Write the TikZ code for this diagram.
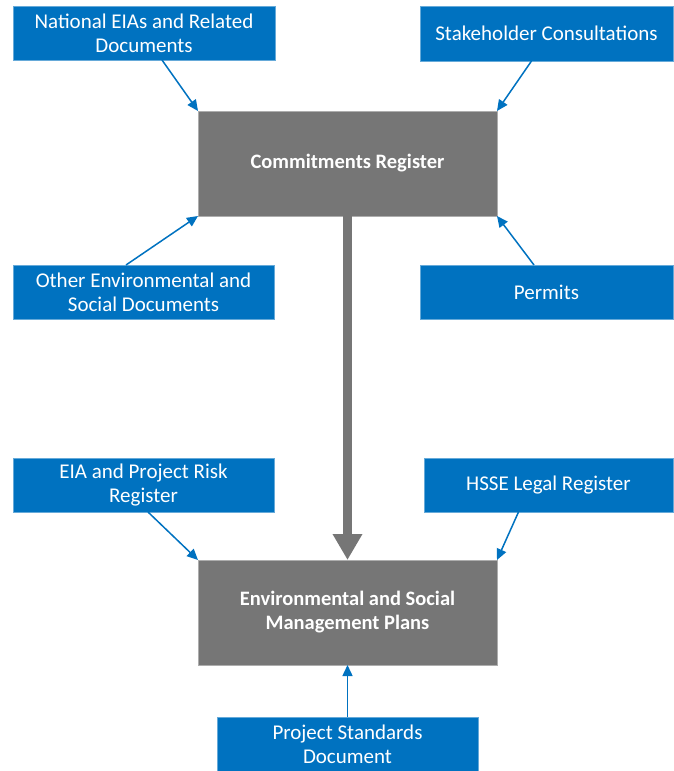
\documentclass[tikz,border=0pt]{standalone}
\usepackage{fontspec}
\setmainfont{Carlito}
\usetikzlibrary{arrows.meta}
\definecolor{boxblue}{RGB}{0,114,192}
\definecolor{boxgray}{RGB}{118,118,118}
\tikzset{
  bluebox/.style={fill=boxblue, draw=boxblue!60!white, line width=0.5pt, text=white,
    align=center, inner sep=0pt, outer sep=0pt, font=\fontsize{21}{24}\selectfont},
  graybox/.style={fill=boxgray, draw=boxgray!60!white, line width=0.5pt, text=white,
    align=center, inner sep=0pt, outer sep=0pt, font=\bfseries\fontsize{20.5}{24}\selectfont,
    minimum width=299pt, minimum height=105pt},
  arr/.style={draw=boxblue, line width=1.5pt, -{Triangle[length=11pt,width=10pt]}},
  bigarr/.style={draw=boxgray, line width=9pt, -{Triangle[length=26pt,width=28pt]}}
}
\begin{document}
\begin{tikzpicture}[x=1pt,y=-1pt]
\useasboundingbox (0,0) rectangle (673,771);
\node[bluebox, minimum width=262pt, minimum height=54pt] (nat) at (144,33) {National EIAs and Related\\Documents};
\node[bluebox, minimum width=253pt, minimum height=55pt] (stake) at (546.5,33.5) {Stakeholder Consultations};
\node[graybox] (cr) at (347.5,163.5) {Commitments Register};
\node[bluebox, minimum width=261pt, minimum height=54pt] (other) at (143.5,292) {Other Environmental and\\Social Documents};
\node[bluebox, minimum width=253pt, minimum height=54pt] (perm) at (546.5,292) {Permits};
\node[bluebox, minimum width=261pt, minimum height=54pt] (eia) at (143.5,485) {EIA and Project Risk\\Register};
\node[bluebox, minimum width=249pt, minimum height=54pt] (hsse) at (548.5,485) {HSSE Legal Register};
\node[graybox] (esmp) at (347.5,612.5) {Environmental and Social\\Management Plans};
\node[bluebox, minimum width=261pt, minimum height=54pt] (ps) at (347.5,744) {Project Standards\\Document};
\draw[arr] ([xshift=18pt]nat.south) -- (cr.north west);
\draw[arr] ([xshift=-15pt]stake.south) -- (cr.north east);
\draw[arr] ([xshift=-17.5pt]other.north) -- (cr.south west);
\draw[arr] ([xshift=-12.5pt]perm.north) -- (cr.south east);
\draw[arr] ([xshift=4.5pt]eia.south) -- (esmp.north west);
\draw[arr] ([xshift=-30pt]hsse.south) -- (esmp.north east);
\draw[arr] (ps.north) -- (esmp.south);
\draw[bigarr] (cr.south) -- (esmp.north);
\end{tikzpicture}
\end{document}
